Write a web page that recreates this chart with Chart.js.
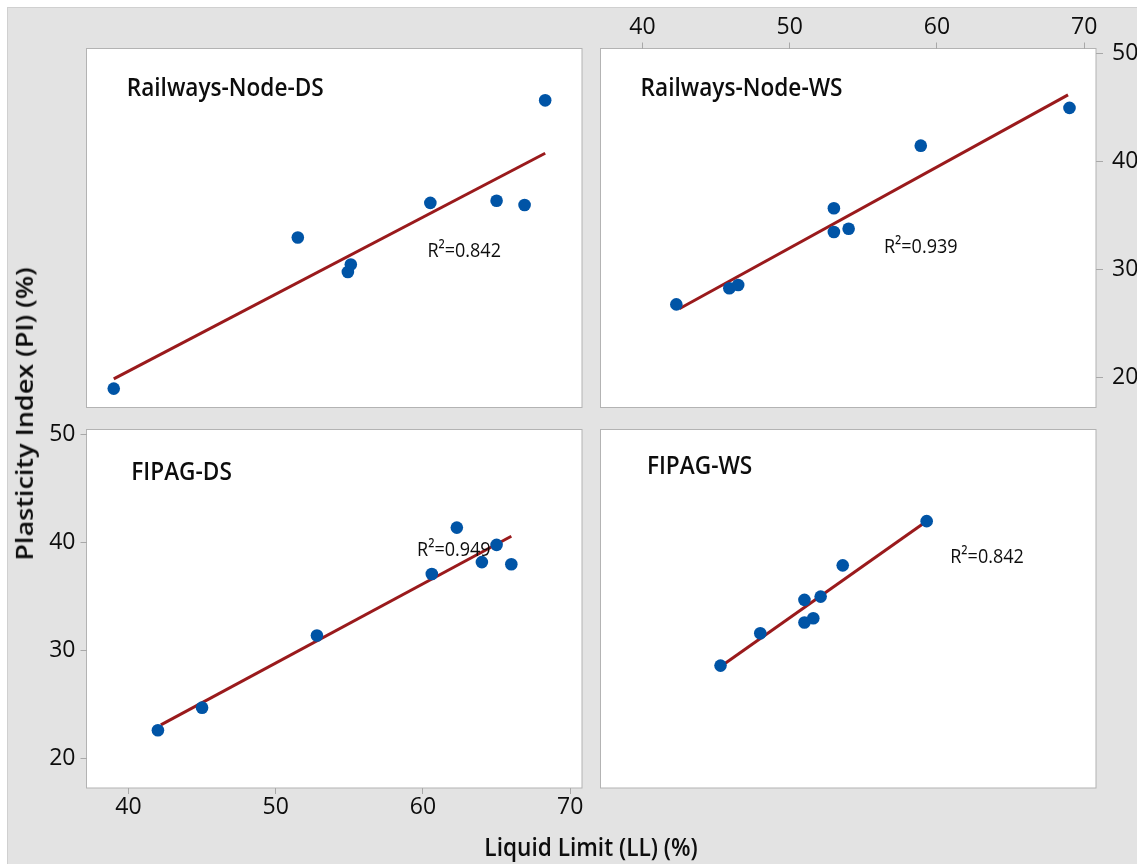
<!DOCTYPE html>
<html>
<head>
<meta charset="utf-8">
<title>Liquid Limit vs Plasticity Index</title>
<script src="https://cdn.jsdelivr.net/npm/chart.js@4.4.1/dist/chart.umd.min.js"></script>
<style>
  html, body { margin: 0; padding: 0; background: #fff; }
  #page { position: relative; width: 1137px; height: 864px; overflow: hidden; background: #fff;
          font-family: "Open Sans", "Noto Sans", sans-serif; }
  #bg { position: absolute; left: 7px; top: 7px; right: 0; bottom: 0; background: #e3e3e3;
        border-left: 1px solid #d0d0d0; border-top: 1px solid #d0d0d0; }
  #page canvas { position: absolute; left: 0; top: 0; }
  .axis-title { position: absolute; font-weight: 600; color: #0d0d0d; white-space: nowrap; line-height: 1; }
  #xTitle { left: 591px; top: 833px; font-size: 26px; transform: translateX(-50%) scaleX(0.87); }
  #yTitle { left: 24px; top: 414px; font-size: 27px; transform: translate(-50%, -50%) rotate(-90deg) scaleY(0.87); }
</style>
</head>
<body>
<div id="page">
  <div id="bg"></div>
  <canvas id="c0" width="1137" height="864"></canvas>
  <canvas id="c1" width="1137" height="864"></canvas>
  <canvas id="c2" width="1137" height="864"></canvas>
  <canvas id="c3" width="1137" height="864"></canvas>
  <div id="yTitle" class="axis-title">Plasticity Index (PI) (%)</div>
  <div id="xTitle" class="axis-title">Liquid Limit (LL) (%)</div>
</div>
<script>
// ---- Data: liquid limit (LL, %) and plasticity index (PI, %) per sample group ----
const railDsLL  = [39.0, 51.5, 54.9, 55.1, 60.5, 65.0, 66.9, 68.3];
const railDsPI  = [19.0, 33.0, 29.8, 30.5, 36.2, 36.4, 36.0, 45.7];
const railWsLL  = [42.3, 45.9, 46.5, 53.0, 53.0, 54.0, 58.9, 69.0];
const railWsPI  = [26.8, 28.3, 28.6, 35.7, 33.5, 33.8, 41.5, 45.0];
const fipagDsLL = [42.0, 45.0, 52.8, 60.6, 62.3, 64.0, 65.0, 66.0];
const fipagDsPI = [22.6, 24.7, 31.4, 37.1, 41.4, 38.2, 39.8, 38.0];
const fipagWsLL = [45.3, 48.0, 51.0, 51.0, 51.6, 52.1, 53.6, 59.3];
const fipagWsPI = [28.6, 31.6, 34.7, 32.6, 33.0, 35.0, 37.9, 42.0];

// Fitted trend lines (start and end point of each)
const railDsFitLL  = [39.0, 68.3];  const railDsFitPI  = [19.9, 40.8];
const railWsFitLL  = [42.5, 68.9];  const railWsFitPI  = [26.4, 46.2];
const fipagDsFitLL = [42.2, 66.0];  const fipagDsFitPI = [23.1, 40.6];
const fipagWsFitLL = [45.6, 59.1];  const fipagWsFitPI = [28.8, 41.8];

const panelNames = ['Railways-Node-DS', 'Railways-Node-WS', 'FIPAG-DS', 'FIPAG-WS'];
const r2Values   = ['0.842', '0.939', '0.949', '0.842'];
const xTicks = [40, 50, 60, 70];
const yTicks = [20, 30, 40, 50];

// ---- Styling and layout ----
const W = 1137, H = 864;
const X_RANGE = [37.15, 70.8];
const Y_RANGE = [17.25, 50.5];
const COLS = [[86.5, 582], [600.5, 1096]];
const ROWS = [[48.5, 407.5], [429.5, 788]];
const BLUE = '#0054a6';
const RED = '#9a1a1c';
const TICK_GREY = '#a8a8a8';
const FONT = '"Open Sans", "Noto Sans", sans-serif';

function pts(xs, ys) { return xs.map((x, i) => ({ x: x, y: ys[i] })); }

function drawSquashed(ctx, text, x, y, font, sx) {
  ctx.save();
  ctx.font = font;
  ctx.translate(x, y);
  ctx.scale(sx, 1);
  ctx.fillText(text, 0, 0);
  ctx.restore();
}

// White panel with grey frame, panel name and R² note
const panelDecor = {
  id: 'panelDecor',
  beforeDraw(chart, args, opts) {
    const { ctx, chartArea: a } = chart;
    ctx.save();
    ctx.fillStyle = '#ffffff';
    ctx.fillRect(a.left, a.top, a.right - a.left, a.bottom - a.top);
    ctx.strokeStyle = '#b3b3b3';
    ctx.lineWidth = 1;
    ctx.strokeRect(a.left, a.top, a.right - a.left, a.bottom - a.top);
    ctx.restore();
  },
  afterDatasetsDraw(chart, args, opts) {
    const { ctx, chartArea: a, scales } = chart;
    ctx.save();
    ctx.fillStyle = '#0d0d0d';
    ctx.textAlign = 'left';
    ctx.textBaseline = 'alphabetic';
    drawSquashed(ctx, opts.title, a.left + opts.titleAt[0], a.top + opts.titleAt[1],
                 '600 26px ' + FONT, 0.87);
    drawSquashed(ctx, 'R\u00B2=' + opts.r2,
                 scales.x.getPixelForValue(opts.r2At[0]), scales.y.getPixelForValue(opts.r2At[1]),
                 '20px ' + FONT, 0.9);
    ctx.restore();
  }
};

function axisGrid(len) {
  return { display: true, drawOnChartArea: false, drawTicks: true, tickLength: len,
           color: TICK_GREY, tickColor: TICK_GREY, lineWidth: 1 };
}

const TICK_FONT = { family: FONT, size: 23, weight: '500' };

function xScale(position, size) {
  return {
    type: 'linear', position: position || 'bottom', display: !!position,
    min: X_RANGE[0], max: X_RANGE[1],
    afterBuildTicks: s => { s.ticks = xTicks.map(v => ({ value: v })); },
    afterFit: s => { if (size) s.height = size; },
    grid: axisGrid(6),
    border: { display: false },
    ticks: { font: TICK_FONT, color: '#0d0d0d', padding: position === 'top' ? 1 : 0,
             maxRotation: 0, autoSkip: false }
  };
}

function yScale(position, size) {
  return {
    type: 'linear', position: position || 'left', display: !!position,
    min: Y_RANGE[0], max: Y_RANGE[1],
    afterBuildTicks: s => { s.ticks = yTicks.map(v => ({ value: v })); },
    afterFit: s => { if (size) s.width = size; },
    grid: axisGrid(position === 'right' ? 7 : 6),
    border: { display: false },
    ticks: { font: TICK_FONT, color: '#0d0d0d', padding: position === 'right' ? 9 : 5,
             autoSkip: false }
  };
}

const panels = [
  { ll: railDsLL, pi: railDsPI, fitLL: railDsFitLL, fitPI: railDsFitPI, col: 0, row: 0,
    titleAt: [40.2, 47.2], r2At: [60.3, 31.2] },
  { ll: railWsLL, pi: railWsPI, fitLL: railWsFitLL, fitPI: railWsFitPI, col: 1, row: 0,
    titleAt: [40.1, 47.2], r2At: [56.4, 31.6], xPos: 'top', yPos: 'right' },
  { ll: fipagDsLL, pi: fipagDsPI, fitLL: fipagDsFitLL, fitPI: fipagDsFitPI, col: 0, row: 1,
    titleAt: [44.8, 50.5], r2At: [59.6, 38.8], xPos: 'bottom', yPos: 'left' },
  { ll: fipagWsLL, pi: fipagWsPI, fitLL: fipagWsFitLL, fitPI: fipagWsFitPI, col: 1, row: 1,
    titleAt: [46.4, 44.5], r2At: [60.9, 38.1] }
];

panels.forEach((p, i) => {
  const [left, right] = COLS[p.col];
  const [top, bottom] = ROWS[p.row];
  const pad = { left: left, top: top, right: W - right, bottom: H - bottom };
  let xSize = 0, ySize = 0;
  if (p.xPos === 'top')    { xSize = top;         pad.top = 0; }
  if (p.xPos === 'bottom') { xSize = H - bottom;  pad.bottom = 0; }
  if (p.yPos === 'left')   { ySize = left;        pad.left = 0; }
  if (p.yPos === 'right')  { ySize = W - right;   pad.right = 0; }

  new Chart(document.getElementById('c' + i), {
    type: 'scatter',
    data: {
      datasets: [
        { type: 'scatter', data: pts(p.ll, p.pi), backgroundColor: BLUE, borderWidth: 0,
          pointRadius: 6.3, pointHoverRadius: 6.3, order: 0 },
        { type: 'line', data: pts(p.fitLL, p.fitPI), borderColor: RED, borderWidth: 3,
          pointRadius: 0, fill: false, tension: 0, order: 1 }
      ]
    },
    options: {
      responsive: false,
      animation: false,
      devicePixelRatio: 1,
      events: [],
      layout: { padding: pad },
      plugins: {
        legend: { display: false },
        tooltip: { enabled: false },
        panelDecor: { title: panelNames[i], r2: r2Values[i], titleAt: p.titleAt, r2At: p.r2At }
      },
      scales: { x: xScale(p.xPos, xSize), y: yScale(p.yPos, ySize) }
    },
    plugins: [panelDecor]
  });
});
</script>
</body>
</html>
